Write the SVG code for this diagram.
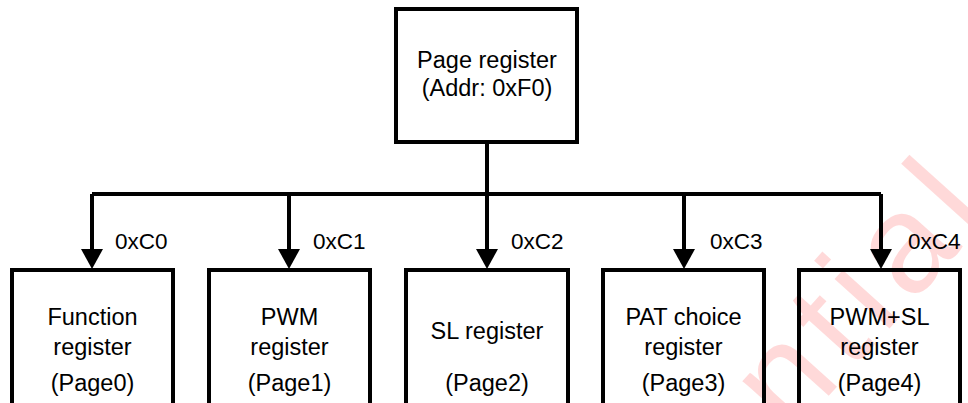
<svg xmlns="http://www.w3.org/2000/svg" width="968" height="403" viewBox="0 0 968 403">
  <style>
    .bg { fill: #ffffff; }
    .box { fill: none; stroke: #000000; stroke-width: 4; }
    .wire { fill: none; stroke: #000000; stroke-width: 4; }
    .head { fill: #000000; stroke: none; }
    .t { font-family: "Liberation Sans", Arial, sans-serif; font-size: 23.5px; fill: #000000; text-anchor: middle; }
    .lbl { font-family: "Liberation Sans", Arial, sans-serif; font-size: 22.5px; fill: #000000; }
    .wm { font-family: "Liberation Sans", Arial, sans-serif; font-size: 140px; fill: #ff0000; fill-opacity: 0.15; letter-spacing: 10.5px; }
  </style>
  <rect class="bg" x="0" y="0" width="968" height="403"/>
  <text class="wm" transform="translate(419,851) rotate(-48)">Confidential</text>

  <g id="connectors">
    <path class="wire" d="M487 142 V194 M92 194 H881 M92 194 V250 M289 194 V250 M487 194 V250 M684 194 V250 M881 194 V250"/>
    <path class="head" d="M81 249 L103 249 L92 269 Z"/>
    <path class="head" d="M278 249 L300 249 L289 269 Z"/>
    <path class="head" d="M476 249 L498 249 L487 269 Z"/>
    <path class="head" d="M673 249 L695 249 L684 269 Z"/>
    <path class="head" d="M870 249 L892 249 L881 269 Z"/>
    <text class="lbl" x="115" y="249">0xC0</text>
    <text class="lbl" x="313" y="249">0xC1</text>
    <text class="lbl" x="511" y="249">0xC2</text>
    <text class="lbl" x="710" y="249">0xC3</text>
    <text class="lbl" x="908" y="249">0xC4</text>
  </g>

  <g id="page-register">
    <rect class="box" x="396" y="9" width="181" height="133"/>
    <text class="t" x="487" y="68">Page register</text>
    <text class="t" x="487" y="96">(Addr: 0xF0)</text>
  </g>

  <g id="page0">
    <rect class="box" x="12" y="270" width="161" height="150"/>
    <text class="t" x="92.5" y="325">Function</text>
    <text class="t" x="92.5" y="355">register</text>
    <text class="t" x="92.5" y="391">(Page0)</text>
  </g>

  <g id="page1">
    <rect class="box" x="209" y="270" width="161" height="150"/>
    <text class="t" x="289.5" y="325">PWM</text>
    <text class="t" x="289.5" y="355">register</text>
    <text class="t" x="289.5" y="391">(Page1)</text>
  </g>

  <g id="page2">
    <rect class="box" x="406" y="270" width="162" height="150"/>
    <text class="t" x="487" y="339">SL register</text>
    <text class="t" x="487" y="391">(Page2)</text>
  </g>

  <g id="page3">
    <rect class="box" x="603" y="270" width="161" height="150"/>
    <text class="t" x="683.5" y="325">PAT choice</text>
    <text class="t" x="683.5" y="355">register</text>
    <text class="t" x="683.5" y="391">(Page3)</text>
  </g>

  <g id="page4">
    <rect class="box" x="799" y="270" width="161" height="150"/>
    <text class="t" x="879.5" y="325">PWM+SL</text>
    <text class="t" x="879.5" y="355">register</text>
    <text class="t" x="879.5" y="391">(Page4)</text>
  </g>
</svg>
